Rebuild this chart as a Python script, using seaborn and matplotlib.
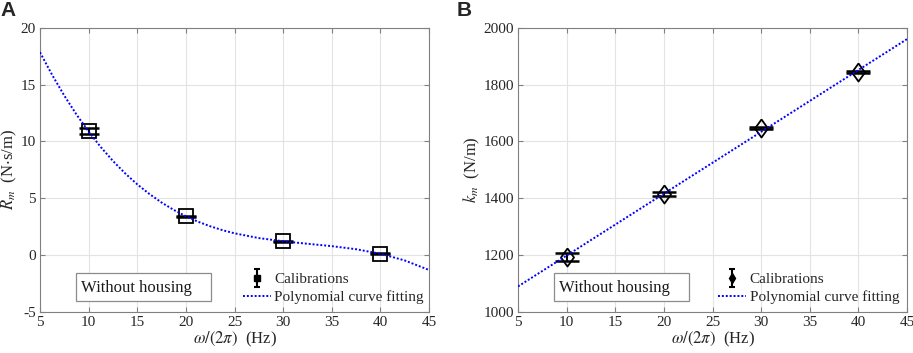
import numpy as np
import matplotlib
matplotlib.use("Agg")
import matplotlib.pyplot as plt
import seaborn as sns
from matplotlib.lines import Line2D
from matplotlib.patches import Rectangle
from matplotlib.container import ErrorbarContainer
from matplotlib.legend_handler import HandlerErrorbar

# calibration frequencies (Hz)
freq = [10, 20, 30, 40]

# panel A : damping R_m (N.s/m)
rm_vals = [10.9, 3.4, 1.2, 0.1]
rm_err = [0.3, 0.06, 0.03, 0.06]
rm_fit_x = [5, 6.25, 7.5, 8.75, 10, 11.25, 12.5, 13.75, 15, 16.25, 17.5, 18.75, 20,
            21.25, 22.5, 23.75, 25, 27.5, 30, 32.5, 35, 37.5, 40, 42.5, 45]
rm_fit_y = [17.84, 15.84, 14.02, 12.36, 10.85, 9.49, 8.27, 7.18, 6.21, 5.36, 4.61, 3.96, 3.4,
            2.92, 2.52, 2.18, 1.90, 1.48, 1.2, 0.98, 0.77, 0.50, 0.1, -0.49, -1.33]

# panel B : stiffness k_m (N/m)
km_vals = [1193, 1416, 1647, 1843]
km_err = [14, 7, 3, 4]
km_fit_x = [5, 45]
km_fit_y = [1089, 1960]

x_ticks = [5, 10, 15, 20, 25, 30, 35, 40, 45]

sns.set_theme(style="whitegrid")
plt.rcParams["font.family"] = ["Liberation Serif", "DejaVu Serif"]
plt.rcParams["mathtext.fontset"] = "stix"
plt.rcParams["axes.unicode_minus"] = False

fig = plt.figure(figsize=(9.13, 3.53), dpi=100)
axA = fig.add_axes([0.0438, 0.117, 0.4262, 0.8045])
axB = fig.add_axes([0.5674, 0.117, 0.4261, 0.8045])

diamond = [(0, 1), (0.72, 0), (0, -1), (-0.72, 0), (0, 1)]


def small_handle(legend_handle, orig_handle):
    # legend icon: small filled marker and short caps
    legend_handle.update_from(orig_handle)
    if isinstance(legend_handle, Line2D):
        m = legend_handle.get_marker()
        if isinstance(m, str) and m == "_":
            legend_handle.set_markersize(5)
        else:
            legend_handle.set_markersize(5)
            legend_handle.set_markerfacecolor("black")


def draw_panel(ax, vals, err, fit_x, fit_y, marker, msize, capsize, ylim, yticks, ylabel, leg_x):
    ax.errorbar(freq, vals, yerr=err, fmt="none", ecolor="black",
                elinewidth=1.5, capsize=capsize, capthick=1.8, zorder=3)
    ax.plot(freq, vals, linestyle="none", marker=marker, markersize=msize,
            markerfacecolor="none", markeredgecolor="black", markeredgewidth=1.3, zorder=3)
    # empty container used only for the legend icon
    eb_leg = ax.errorbar([np.nan], [np.nan], yerr=[1], fmt=marker if isinstance(marker, str) else "d",
                         linestyle="none", color="black", ecolor="black",
                         elinewidth=1.5, capsize=capsize, capthick=1.5)
    sns.lineplot(x=fit_x, y=fit_y, ax=ax, color="#0000ff", linestyle=(0, (1, 1)),
                 linewidth=1.4, zorder=4)
    ax.set_xlim(5, 45)
    ax.set_ylim(*ylim)
    ax.set_xticks(x_ticks)
    ax.set_yticks(yticks)
    ax.grid(True, color="#e3e3e3", linewidth=0.8)
    for s in ax.spines.values():
        s.set_visible(True)
        s.set_color("#808080")
        s.set_linewidth(0.8)
    ax.tick_params(direction="in", length=3.5, width=0.8, color="#808080",
                   labelsize=11, labelcolor="#262626", top=True, right=True,
                   bottom=True, left=True, pad=3)
    ax.set_xlabel(r"$\omega/(2\pi)$  (Hz)", fontsize=12, color="#262626", labelpad=1)
    ax.set_ylabel(ylabel, fontsize=12, color="#262626", labelpad=1)

    # text box
    ax.add_patch(Rectangle((0.092, 0.037), 0.348, 0.1, transform=ax.transAxes,
                           facecolor="white", edgecolor="#8c8c8c", linewidth=0.9, zorder=5))
    ax.text(0.105, 0.085, "Without housing", transform=ax.transAxes, fontsize=12,
            va="center", ha="left", color="#1a1a1a", zorder=6)

    fit_line = Line2D([], [], color="#0000ff", linestyle=(0, (1, 1)), linewidth=1.4)
    ax.legend([eb_leg, fit_line], ["Calibrations", "Polynomial curve fitting"],
              loc="upper left", bbox_to_anchor=(leg_x, 0.138), frameon=False,
              fontsize=11, borderpad=0, borderaxespad=0, handlelength=1.8,
              handletextpad=0.25, labelspacing=0.28,
              handler_map={ErrorbarContainer: HandlerErrorbar(yerr_size=0.6, update_func=small_handle)})


draw_panel(axA, rm_vals, rm_err, rm_fit_x, rm_fit_y, "s", 9.5, 7.5,
           (-5, 20), [-5, 0, 5, 10, 15, 20], r"$R_m$  (N$\cdot$s/m)", 0.522)
draw_panel(axB, km_vals, km_err, km_fit_x, km_fit_y, diamond, 13, 8.5,
           (1000, 2000), [1000, 1200, 1400, 1600, 1800, 2000], r"$k_m$  (N/m)", 0.515)

fig.text(0.001, 0.997, "A", fontsize=15, fontweight="bold", va="top", ha="left",
         family=["Liberation Sans", "DejaVu Sans"])
fig.text(0.5, 0.997, "B", fontsize=15, fontweight="bold", va="top", ha="left",
         family=["Liberation Sans", "DejaVu Sans"])

fig.savefig("out.png", dpi=100)
